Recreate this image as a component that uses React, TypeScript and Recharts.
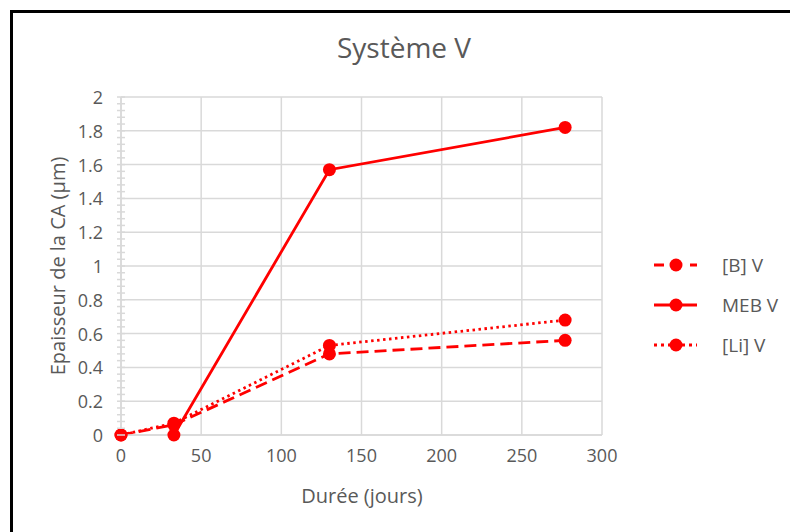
import React from 'react';
import { LineChart, Line, XAxis, YAxis, CartesianGrid } from 'recharts';

const duree = [0, 33, 130, 277];
const serieB = [0, 0.06, 0.48, 0.56];
const serieMEB = [null, 0, 1.57, 1.82];
const serieLi = [0, 0.07, 0.53, 0.68];
const seriesNames = ['[B] V', 'MEB V', '[Li] V'];
const xTicks = [0, 50, 100, 150, 200, 250, 300];
const yMajorTicks = [0, 0.2, 0.4, 0.6, 0.8, 1, 1.2, 1.4, 1.6, 1.8, 2];

const yMinorTicks: number[] = [];
for (let i = 0; i < yMajorTicks.length - 1; i++) {
  const a = yMajorTicks[i];
  const b = yMajorTicks[i + 1];
  for (let k = 0; k < 5; k++) yMinorTicks.push(+(a + ((b - a) * k) / 5).toFixed(4));
}
yMinorTicks.push(yMajorTicks[yMajorTicks.length - 1]);

const data = duree.map((d, i) => ({ duree: d, B: serieB[i], MEB: serieMEB[i], Li: serieLi[i] }));

const RED = '#ff0000';
const GRID = '#d9d9d9';
const TXT = '#595959';
const FONT = '"Open Sans", sans-serif';
const Y_MARGIN = 18;
const LW = 2.8;

const YTick = (props: any) => {
  const { x, y, payload } = props;
  const v = payload.value;
  const axisX = x + Y_MARGIN;
  const isMajor = yMajorTicks.some((m) => Math.abs(m - v) < 1e-6);
  return (
    <g>
      <line x1={axisX - 4} x2={axisX + 4} y1={y} y2={y} stroke={GRID} strokeWidth={1.5} />
      {isMajor && (
        <text x={x} y={y} textAnchor="end" dominantBaseline="central" fill={TXT} fontSize={18} fontFamily={FONT}>
          {String(v)}
        </text>
      )}
    </g>
  );
};

const legendStyles = [
  { dash: '10 8', key: 'B' },
  { dash: undefined, key: 'MEB' },
  { dash: '3 4', key: 'Li' },
];

const dotStyle = { r: 6.5, fill: RED, stroke: RED, strokeWidth: 0 };

export default function App() {
  return (
    <div style={{ position: 'absolute', left: 0, top: 0, width: 790, height: 532, overflow: 'hidden', background: '#fff' }}>
      <div style={{ position: 'absolute', left: 10, top: 10, width: 800, height: 540, borderTop: '3px solid #000', borderLeft: '3px solid #000' }} />
      <LineChart
        width={790}
        height={532}
        data={data}
        margin={{ top: 97, right: 188, bottom: 67, left: 60 }}
        style={{ position: 'absolute', left: 0, top: 0 }}
      >
        <CartesianGrid stroke={GRID} strokeWidth={1.5} horizontalValues={yMajorTicks} verticalValues={xTicks} />
        <XAxis
          dataKey="duree"
          type="number"
          domain={[0, 300]}
          ticks={xTicks}
          interval={0}
          height={30}
          tickLine={false}
          tickSize={0}
          tickMargin={14}
          axisLine={{ stroke: GRID, strokeWidth: 1.5 }}
          tick={{ fill: TXT, fontSize: 18, fontFamily: FONT }}
        />
        <YAxis
          type="number"
          domain={[0, 2]}
          ticks={yMinorTicks}
          interval={0}
          width={61}
          tickLine={false}
          tickSize={0}
          tickMargin={Y_MARGIN}
          axisLine={{ stroke: GRID, strokeWidth: 1.5 }}
          tick={<YTick />}
        />
        <Line type="linear" dataKey="B" stroke={RED} strokeWidth={LW} strokeDasharray="12 6" dot={dotStyle} isAnimationActive={false} />
        <Line type="linear" dataKey="MEB" stroke={RED} strokeWidth={LW} dot={dotStyle} isAnimationActive={false} />
        <Line type="linear" dataKey="Li" stroke={RED} strokeWidth={LW} strokeDasharray="2.5 3.5" dot={dotStyle} isAnimationActive={false} />
      </LineChart>
      <svg width={790} height={532} style={{ position: 'absolute', left: 0, top: 0, pointerEvents: 'none' }}>
        <text x={404} y={47} textAnchor="middle" dominantBaseline="central" fill={TXT} fontSize={28} fontFamily={FONT}>
          Système V
        </text>
        <text x={362} y={495} textAnchor="middle" dominantBaseline="central" fill={TXT} fontSize={20} fontFamily={FONT}>
          Durée (jours)
        </text>
        <text
          x={57}
          y={266}
          textAnchor="middle"
          dominantBaseline="central"
          fill={TXT}
          fontSize={20}
          fontFamily={FONT}
          transform="rotate(-90 57 266)"
        >
          Epaisseur de la CA (µm)
        </text>
        {seriesNames.map((name, i) => {
          const cy = 265 + i * 40;
          const st = legendStyles[i];
          return (
            <g key={name}>
              <line x1={654} x2={697} y1={cy} y2={cy} stroke={RED} strokeWidth={LW} strokeDasharray={st.dash} />
              <circle cx={676} cy={cy} r={6.5} fill={RED} />
              <text x={722} y={cy} dominantBaseline="central" fill={TXT} fontSize={19} fontFamily={FONT}>
                {name}
              </text>
            </g>
          );
        })}
      </svg>
    </div>
  );
}
